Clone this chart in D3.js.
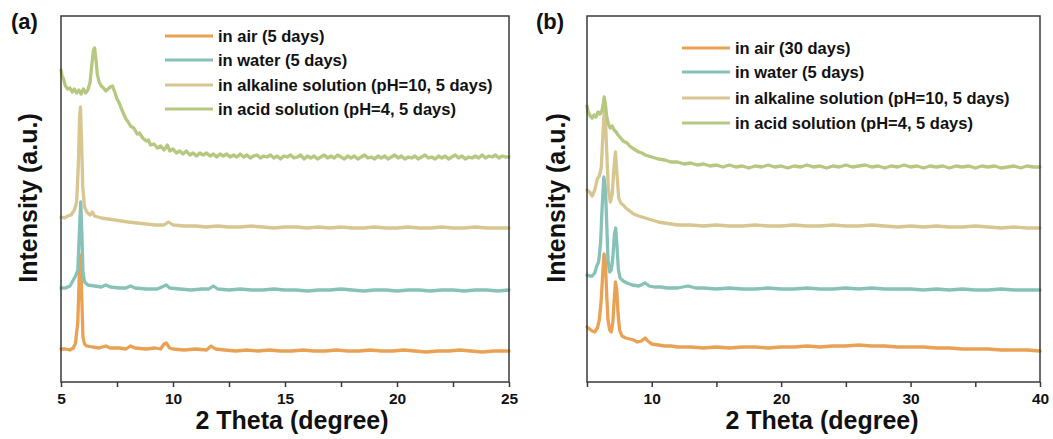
<!DOCTYPE html>
<html>
<head>
<meta charset="utf-8">
<script src="https://cdn.jsdelivr.net/npm/d3@7"></script>
<style>
  html, body { margin: 0; padding: 0; background: #fff; }
  svg { display: block; font-family: Arial, "Liberation Sans", sans-serif; }
</style>
</head>
<body>
<svg id="chart" width="1053" height="439"></svg>
<script>
// XRD patterns, 2θ (degree) vs intensity (a.u., curves already stacked)
const seriesNamesA = ["in air (5 days)", "in water (5 days)", "in alkaline solution (pH=10, 5 days)", "in acid solution (pH=4, 5 days)"];
const seriesNamesB = ["in air (30 days)", "in water (5 days)", "in alkaline solution (pH=10, 5 days)", "in acid solution (pH=4, 5 days)"];
const seriesColors = ["#E9A154", "#86C2B8", "#D7C68F", "#B5C880"];

const ticksA = [5, 7.5, 10, 12.5, 15, 17.5, 20, 22.5, 25];
const tickLabelsA = [5, 10, 15, 20, 25];
const ticksB = [5, 10, 15, 20, 25, 30, 35, 40];
const tickLabelsB = [10, 20, 30, 40];

// Panel (a)
const airA = [[5.0,33],[5.2,33],[5.4,32],[5.55,34],[5.65,39],[5.75,60],[5.82,110],[5.87,127],[5.92,90],[5.98,45],[6.05,38],[6.15,36],[6.4,35],[6.7,34],[7.0,36],[7.2,34],[7.6,34],[7.9,33],[8.1,36],[8.3,34],[8.8,33],[9.2,34],[9.45,33],[9.6,38],[9.7,39],[9.85,34],[10.0,33],[10.5,32],[11.0,33],[11.5,32],[11.7,36],[11.9,33],[12.3,32],[12.8,31],[13.3,32],[13.8,31],[14.3,32],[14.8,31],[15.3,31],[15.8,32],[16.3,31],[16.8,31],[17.3,32],[17.8,31],[18.3,31],[18.8,32],[19.3,31],[19.8,31],[20.3,32],[20.8,31],[21.3,30],[21.8,31],[22.3,31],[22.8,32],[23.3,31],[23.8,30],[24.3,31],[24.8,31],[25,31]];
const waterA = [[5.0,94],[5.2,94],[5.4,96],[5.55,102],[5.65,106],[5.75,112],[5.82,150],[5.88,180],[5.93,150],[5.98,110],[6.05,100],[6.2,97],[6.5,96],[6.8,95],[7.0,97],[7.2,95],[7.6,94],[7.9,94],[8.1,96],[8.3,94],[8.8,93],[9.3,93],[9.6,96],[9.7,97],[9.85,94],[10.3,93],[10.8,92],[11.3,93],[11.6,93],[11.8,96],[12.0,93],[12.5,92],[13,93],[13.5,92],[14,92],[14.5,93],[15,92],[15.5,92],[16,91],[16.5,92],[17,92],[17.5,93],[18,92],[18.5,91],[19,92],[19.5,92],[20,91],[20.5,92],[21,92],[21.5,91],[22,92],[22.5,92],[23,91],[23.5,92],[24,92],[24.5,91],[25,92]];
const alkalineA = [[5.0,165],[5.15,164],[5.3,166],[5.45,167],[5.6,172],[5.7,180],[5.77,215],[5.83,265],[5.87,275],[5.92,240],[5.97,195],[6.05,175],[6.15,170],[6.3,167],[6.4,170],[6.5,166],[6.8,164],[7.1,163],[7.4,162],[7.7,161],[8.0,160],[8.4,159],[8.8,158],[9.2,157],[9.6,157],[9.8,160],[10.0,157],[10.5,156],[11,156],[11.5,155],[12,156],[12.5,155],[13,155],[13.5,156],[14,155],[14.5,154],[15,155],[15.5,155],[16,154],[16.5,155],[17,154],[17.5,155],[18,154],[18.5,154],[19,155],[19.5,154],[20,154],[20.5,155],[21,154],[21.5,154],[22,155],[22.5,154],[23,154],[23.5,155],[24,154],[24.5,154],[25,154]];
const acidA = [[5.0,312],[5.05,306],[5.1,304],[5.15,300],[5.2,296],[5.3,293],[5.4,294],[5.5,290],[5.6,293],[5.7,289],[5.8,292],[5.9,288],[6.0,293],[6.1,289],[6.2,292],[6.3,300],[6.38,318],[6.45,332],[6.5,334],[6.55,325],[6.62,308],[6.7,300],[6.8,296],[6.9,294],[7.0,291],[7.1,293],[7.2,295],[7.3,296],[7.4,290],
  [7.5,283],[7.6,279],[7.7,273],[7.8,268],[7.9,263],[8.0,260],[8.1,256],[8.25,254],[8.4,248],[8.5,249],[8.65,244],[8.8,241],[8.9,242],[9.0,237],[9.15,238],[9.3,234],[9.45,236],[9.6,232],[9.75,237],[9.85,231],[10.0,233],[10.15,229],[10.3,231],[10.45,228],[10.6,231],[10.75,227],[10.9,229],[11.05,226],[11.2,229],[11.35,227],[11.5,229],[11.65,226],[11.8,228],[11.95,225],[12.1,228],[12.25,226],[12.4,228],[12.55,225],[12.7,227],[12.85,225],[13.0,228],[13.15,225],[13.3,227],[13.45,224],[13.6,226],[13.75,227],[13.9,224],[14.05,226],[14.2,225],[14.35,227],[14.5,224],[14.65,226],[14.8,223],[14.95,226],[15.1,225],[15.25,227],[15.4,224],[15.55,225],[15.7,227],[15.85,223],[16.0,226],[16.15,224],[16.3,226],[16.45,223],[16.6,225],[16.75,227],[16.9,224],[17.05,226],[17.2,224],[17.35,227],[17.5,225],[17.65,223],[17.8,226],[17.95,224],[18.1,226],[18.25,223],[18.4,225],[18.55,227],[18.7,224],[18.85,225],[19.0,223],[19.15,226],[19.3,224],[19.45,226],[19.6,223],[19.75,225],[19.9,227],[20.05,224],[20.2,226],[20.35,223],[20.5,225],[20.65,224],[20.8,226],[20.95,223],[21.1,225],[21.25,227],[21.4,224],[21.55,225],[21.7,223],[21.85,226],[22.0,224],[22.15,226],[22.3,223],[22.45,225],[22.6,227],[22.75,224],[22.9,226],[23.05,223],[23.2,225],[23.35,224],[23.5,226],[23.65,224],[23.8,227],[23.95,224],[24.1,226],[24.25,225],[24.4,227],[24.55,224],[24.7,226],[24.85,225],[25.0,225]];

// Panel (b)
const airB = [[5.0,55],[5.2,53],[5.4,51],[5.6,50],[5.8,54],[5.95,62],[6.1,82],[6.22,110],[6.32,128],[6.42,120],[6.52,88],[6.62,62],[6.75,52],[6.88,50],[7.0,60],[7.1,82],[7.2,100],[7.3,92],[7.4,68],[7.52,52],[7.7,46],[8.0,44],[8.3,43],[8.6,42],[8.9,40],[9.2,41],[9.5,44],[9.7,41],[10,38],[10.5,37],[11,36],[11.5,36],[12,35],[13,35],[14,34],[15,35],[16,34],[17,35],[18,35],[19,34],[20,35],[21,35],[22,36],[23,35],[24,36],[25,36],[26,37],[27,36],[28,36],[29,35],[30,35],[31,35],[32,34],[33,34],[34,33],[35,33],[36,33],[37,32],[38,32],[39,32],[40,31]];
const waterB = [[5.0,107],[5.2,106],[5.4,106],[5.6,109],[5.75,116],[5.9,120],[6.05,140],[6.17,175],[6.3,205],[6.42,195],[6.52,160],[6.62,122],[6.75,110],[6.88,112],[7.0,125],[7.12,148],[7.22,154],[7.32,135],[7.42,113],[7.55,104],[7.8,101],[8.1,99],[8.5,97],[9.0,96],[9.5,99],[9.8,96],[10.2,95],[10.7,95],[11.2,94],[12,94],[12.8,96],[13.4,94],[14,94],[15,93],[16,94],[17,93],[18,93],[19,94],[20,93],[21,93],[22,94],[23,93],[24,93],[25,94],[26,93],[27,94],[28,93],[29,93],[30,93],[31,92],[32,93],[33,92],[34,93],[35,92],[36,92],[37,93],[38,92],[39,92],[40,92]];
const alkalineB = [[5.0,192],[5.2,190],[5.4,186],[5.6,192],[5.8,203],[5.95,206],[6.1,214],[6.22,245],[6.33,272],[6.43,262],[6.53,228],[6.65,193],[6.8,180],[6.95,188],[7.08,214],[7.2,230],[7.32,207],[7.45,184],[7.6,179],[7.8,177],[8.0,174],[8.3,171],[8.6,168],[9.0,166],[9.5,164],[10,162],[10.5,160],[11,159],[11.5,158],[12,157],[13,157],[14,156],[15,157],[16,156],[17,156],[18,157],[19,156],[20,156],[21,157],[22,156],[23,156],[24,157],[25,156],[26,156],[27,157],[28,156],[29,155],[30,156],[31,155],[32,156],[33,155],[34,155],[35,156],[36,155],[37,154],[38,155],[39,154],[40,154]];
const acidB = [[5.0,276],[5.1,270],[5.25,266],[5.4,264],[5.55,267],[5.7,265],[5.85,270],[6.0,268],[6.15,271],[6.25,278],[6.33,285],[6.42,278],[6.52,266],[6.65,258],[6.8,254],[6.95,256],[7.1,252],[7.25,250],[7.4,247],[7.6,244],[7.8,241],[8.1,239],[8.3,236],[8.5,234],[8.75,232],[9.0,230],[9.25,229],[9.5,227],[9.75,226],
  [10,225],[10.5,223],[11,222],[11.5,220],[12,220],[12.5,218],[13,219],[13.5,217],[14,218],[14.5,216],[15,217],[15.5,215],[16,217],[16.5,215],[17,216],[17.5,214],[18,216],[18.5,215],[19,217],[19.5,215],[20,216],[20.5,214],[21,216],[21.5,215],[22,217],[22.5,215],[23,216],[23.5,214],[24,216],[24.5,215],[25,217],[25.5,215],[26,216],[26.5,217],[27,215],[27.5,216],[28,214],[28.5,216],[29,215],[29.5,217],[30,215],[30.5,216],[31,214],[31.5,216],[32,215],[32.5,216],[33,214],[33.5,216],[34,215],[34.5,216],[35,214],[35.5,216],[36,215],[36.5,216],[37,214],[37.5,215],[38,216],[38.5,214],[39,216],[39.5,215],[40,215]];

const svg = d3.select("#chart");

function drawPanel(cfg) {
  const g = svg.append("g");
  const x = d3.scaleLinear().domain(cfg.xDomain).range([cfg.left, cfg.right]);
  const y = d3.scaleLinear().domain([0, 366]).range([cfg.bottom, cfg.top]);

  const line = d3.line().x(d => x(d[0])).y(d => y(d[1]));

  // diffraction curves, air at the bottom, acid drawn last
  g.selectAll("path.curve")
    .data(cfg.series)
    .enter().append("path")
    .attr("class", "curve")
    .attr("d", d => line(d))
    .attr("fill", "none")
    .attr("stroke", (d, i) => seriesColors[i])
    .attr("stroke-width", 3.3)
    .attr("stroke-linejoin", "round")
    .attr("stroke-linecap", "round");

  // frame
  g.append("rect")
    .attr("x", cfg.left).attr("y", cfg.top)
    .attr("width", cfg.right - cfg.left).attr("height", cfg.bottom - cfg.top)
    .attr("fill", "none").attr("stroke", "#3a3a3a").attr("stroke-width", 1.5);

  // bottom axis
  const axis = d3.axisBottom(x)
    .tickValues(cfg.ticks)
    .tickSize(5)
    .tickFormat(v => cfg.tickLabels.includes(v) ? String(v) : "");
  const ax = g.append("g")
    .attr("transform", `translate(0,${cfg.bottom})`)
    .call(axis);
  ax.select(".domain").remove();
  ax.selectAll(".tick line").attr("stroke", "#3a3a3a").attr("stroke-width", 1.5);
  ax.selectAll(".tick text")
    .attr("y", 11).attr("dy", "0.71em")
    .attr("fill", "#111")
    .style("font-size", "15.5px").style("font-weight", "bold")
    .style("font-family", "Arial, 'Liberation Sans', sans-serif");

  // axis titles
  g.append("text")
    .attr("x", cfg.xTitleX).attr("y", 429)
    .attr("text-anchor", "middle")
    .style("font-size", "25px").style("font-weight", "bold").attr("fill", "#111")
    .text("2 Theta (degree)");
  g.append("text")
    .attr("transform", `translate(${cfg.yTitleX},198) rotate(-90)`)
    .attr("text-anchor", "middle")
    .style("font-size", "25px").style("font-weight", "bold").attr("fill", "#111")
    .text("Intensity (a.u.)");

  // panel letter
  g.append("text")
    .attr("x", cfg.letterX).attr("y", 29)
    .style("font-size", "22px").style("font-weight", "bold").attr("fill", "#111")
    .text(cfg.letter);

  // legend
  const lg = g.append("g");
  cfg.names.forEach((name, i) => {
    const ry = cfg.legendRows[i];
    lg.append("line")
      .attr("x1", cfg.legendX).attr("x2", cfg.legendX + 48)
      .attr("y1", ry).attr("y2", ry)
      .attr("stroke", seriesColors[i]).attr("stroke-width", 3);
    lg.append("text")
      .attr("x", cfg.legendX + 53).attr("y", ry + 6)
      .style("font-size", "16.5px").style("font-weight", "bold").attr("fill", "#111")
      .text(name);
  });
}

drawPanel({
  left: 61, right: 509, top: 16, bottom: 382,
  xDomain: [5, 25], ticks: ticksA, tickLabels: tickLabelsA,
  series: [airA, waterA, alkalineA, acidA], names: seriesNamesA,
  xTitleX: 292, yTitleX: 37, letter: "(a)", letterX: 11,
  legendX: 165, legendRows: [36, 60, 85, 109]
});

drawPanel({
  left: 587, right: 1040, top: 16, bottom: 382,
  xDomain: [5, 40], ticks: ticksB, tickLabels: tickLabelsB,
  series: [airB, waterB, alkalineB, acidB], names: seriesNamesB,
  xTitleX: 822, yTitleX: 565, letter: "(b)", letterX: 536,
  legendX: 682, legendRows: [48, 72, 98, 123]
});
</script>
</body>
</html>
